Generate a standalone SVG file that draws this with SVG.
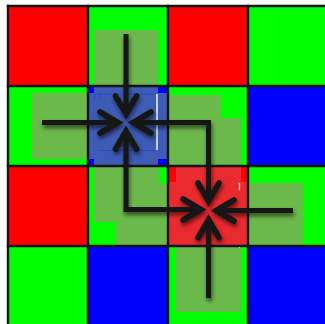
<svg xmlns="http://www.w3.org/2000/svg" width="325" height="324" viewBox="0 0 325 324">
  <style>
    .r { fill: #ff0000; }
    .g { fill: #00ff00; }
    .b { fill: #0000ff; }
    .band { fill: #6bb84b; }
    .bandA { fill: #3e5cb6; }
    .bandB { fill: #e92a2e; }
    .grid line { stroke: #141414; stroke-width: 2.4; }
    .conn { fill: none; stroke: #141414; stroke-width: 5; stroke-linecap: butt; stroke-linejoin: miter; }
  </style>
  <defs>
    <marker id="chev" viewBox="-25 -15 30 30" refX="0" refY="0" markerWidth="30" markerHeight="30" markerUnits="userSpaceOnUse" orient="auto-start-reverse" overflow="visible">
      <path d="M -18,-10.5 L 0,0 L -18,10.5" fill="none" stroke="#141414" stroke-width="5.5" stroke-linecap="round" stroke-linejoin="miter"/>
    </marker>
    <filter id="shadow" x="-20%" y="-20%" width="140%" height="140%">
      <feGaussianBlur in="SourceAlpha" stdDeviation="2.2"/>
      <feOffset dx="1" dy="2.5" result="o"/>
      <feComponentTransfer><feFuncA type="linear" slope="0.6"/></feComponentTransfer>
      <feMerge><feMergeNode/><feMergeNode in="SourceGraphic"/></feMerge>
    </filter>
  </defs>
  <rect x="0" y="0" width="325" height="324" fill="#ffffff"/>
  <g id="cells">
    <rect class="r" x="8" y="6" width="80" height="80"/>
    <rect class="g" x="88" y="6" width="80" height="80"/>
    <rect class="r" x="168" y="6" width="80" height="80"/>
    <rect class="g" x="248" y="6" width="80" height="80"/>
    <rect class="g" x="8" y="86" width="80" height="80"/>
    <rect class="g" x="168" y="86" width="80" height="80"/>
    <rect class="b" x="248" y="86" width="80" height="80"/>
    <rect class="r" x="8" y="166" width="80" height="80"/>
    <rect class="g" x="88" y="166" width="80" height="80"/>
    <rect class="g" x="248" y="166" width="80" height="80"/>
    <rect class="g" x="8" y="246" width="80" height="80"/>
    <rect class="b" x="88" y="246" width="80" height="80"/>
    <rect class="g" x="168" y="246" width="80" height="80"/>
    <rect class="b" x="248" y="246" width="80" height="80"/>
  </g>
  <g id="bands">
    <rect class="band" x="94" y="30" width="64" height="56"/>
    <rect class="band" x="32" y="93" width="56" height="66"/>
    <rect class="band" x="169" y="95" width="52" height="71"/>
    <rect class="band" x="169" y="118" width="72" height="48"/>
    <rect class="band" x="94" y="166" width="65" height="56"/>
    <rect class="band" x="116" y="183" width="52" height="63"/>
    <rect class="band" x="248" y="183" width="55" height="63"/>
    <rect class="band" x="176" y="246" width="65" height="66"/>
  </g>
  <g id="nodeA">
    <rect class="b" x="88" y="86" width="80" height="80"/>
    <rect class="bandA" x="94" y="86" width="64" height="80"/>
    <rect class="bandA" x="88" y="93" width="80" height="66"/>
    <path d="M95,99 V94 H157 M100,99 V94 M100,150.5 H155" fill="none" stroke="#2a46cc" stroke-width="1"/>
    <line x1="157" y1="94" x2="157" y2="150" stroke="#ffffff" stroke-width="1.4"/>
  </g>
  <g id="nodeB">
    <rect class="r" x="168" y="166" width="80" height="80"/>
    <rect class="bandB" x="176" y="166" width="65" height="80"/>
    <rect class="bandB" x="168" y="182" width="80" height="64"/>
    <line x1="239.5" y1="183" x2="239.5" y2="190" stroke="#ffffff" stroke-width="1.2"/>
    <line x1="239.5" y1="245" x2="239.5" y2="248" stroke="#ffffff" stroke-width="1.2"/>
  </g>
  <g class="grid">
    <line x1="8" y1="4.8" x2="8" y2="324"/>
    <line x1="88" y1="4.8" x2="88" y2="324"/>
    <line x1="168" y1="4.8" x2="168" y2="324"/>
    <line x1="248" y1="4.8" x2="248" y2="324"/>
    <line x1="6.8" y1="6" x2="325" y2="6"/>
    <line x1="6.8" y1="86" x2="325" y2="86"/>
    <line x1="6.8" y1="166" x2="325" y2="166"/>
    <line x1="6.8" y1="246" x2="325" y2="246"/>
  </g>
  <g id="connectors" filter="url(#shadow)">
    <path class="conn" d="M126,34 V114" marker-end="url(#chev)"/>
    <path class="conn" d="M42,122.5 H118" marker-end="url(#chev)"/>
    <path class="conn" d="M133,122.5 H208.5 V201" marker-start="url(#chev)" marker-end="url(#chev)"/>
    <path class="conn" d="M126,131 V209.5 H201" marker-start="url(#chev)" marker-end="url(#chev)"/>
    <path class="conn" d="M293,210.5 H216" marker-end="url(#chev)"/>
    <path class="conn" d="M208.5,298 V219.5" marker-end="url(#chev)"/>
  </g>
</svg>
